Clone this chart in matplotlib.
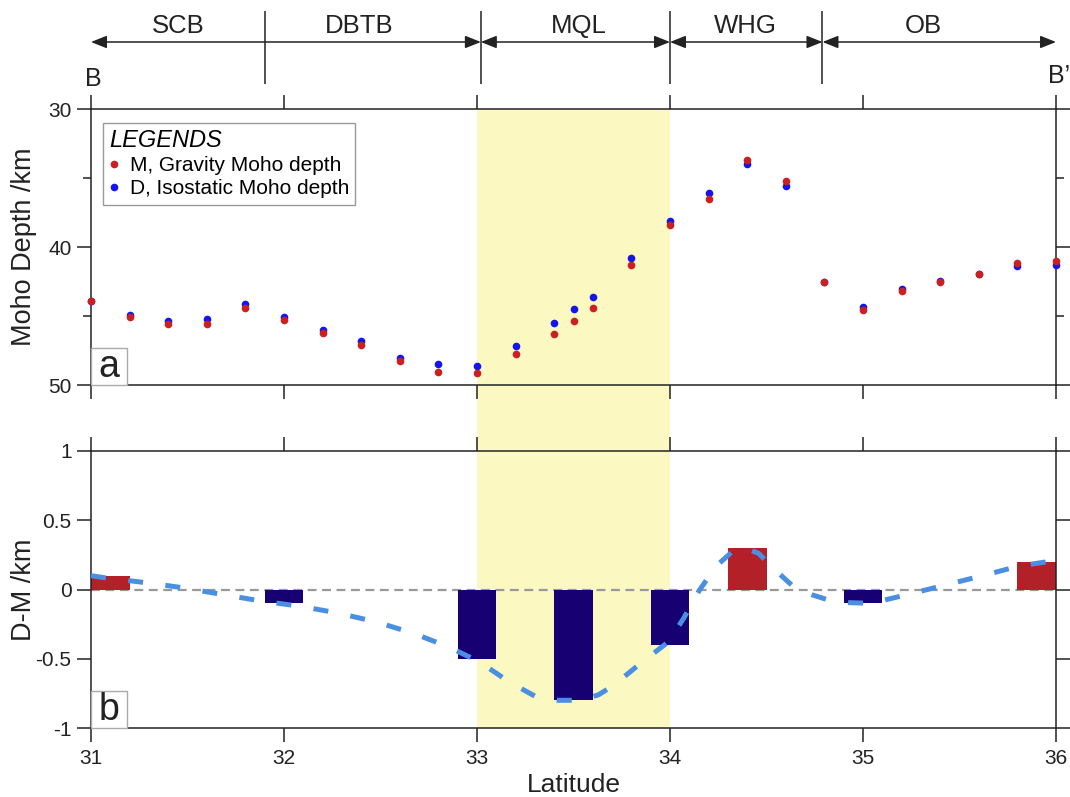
import matplotlib.pyplot as plt
from matplotlib.patches import Rectangle

plt.rcParams['font.family'] = ['Liberation Sans', 'DejaVu Sans']

# latitude of the profile points (panel a)
lat_pts = [31.0, 31.2, 31.4, 31.6, 31.8, 32.0, 32.2, 32.4, 32.6, 32.8, 33.0,
           33.2, 33.4, 33.5, 33.6, 33.8, 34.0, 34.2, 34.4, 34.6, 34.8,
           35.0, 35.2, 35.4, 35.6, 35.8, 36.0]
# M, gravity moho depth (km)
gravity_moho = [43.89, 45.05, 45.56, 45.56, 44.45, 45.27, 46.22, 47.12, 48.23, 49.03, 49.15,
                47.72, 46.34, 45.35, 44.45, 41.30, 38.41, 36.55, 33.68, 35.19, 42.51,
                44.55, 43.19, 42.53, 41.93, 41.15, 41.05]
# D, isostatic moho depth (km)
isostatic_moho = [43.89, 44.96, 45.37, 45.22, 44.16, 45.10, 45.98, 46.78, 48.06, 48.50, 48.62,
                  47.21, 45.49, 44.50, 43.60, 40.79, 38.10, 36.11, 34.02, 35.60, 42.51,
                  44.35, 43.04, 42.44, 41.93, 41.39, 41.27]

# D-M bars (panel b)
bar_lat = [31.1, 32.0, 33.0, 33.5, 34.0, 34.4, 35.0, 35.9]
bar_diff = [0.1, -0.1, -0.5, -0.8, -0.4, 0.3, -0.1, 0.2]

# smoothed D-M trend
curve_lat = [31.0, 31.07, 31.28, 31.48, 31.68, 31.89, 32.08, 32.28, 32.48, 32.67, 32.85,
             33.01, 33.17, 33.3, 33.42, 33.54, 33.63, 33.71, 33.85, 33.99, 34.07, 34.15,
             34.24, 34.32, 34.39, 34.46, 34.53, 34.64, 34.74, 34.83, 34.93, 35.04, 35.22,
             35.42, 35.62, 35.81, 36.0]
curve_diff = [0.1, 0.085, 0.05, 0.012, -0.036, -0.085, -0.12, -0.17, -0.235, -0.316, -0.413,
              -0.52, -0.67, -0.77, -0.80, -0.80, -0.76, -0.69, -0.53, -0.38, -0.21, -0.01,
              0.17, 0.27, 0.30, 0.26, 0.16, 0.02, -0.04, -0.08, -0.095, -0.10, -0.04,
              0.03, 0.10, 0.17, 0.21]

zones = ['SCB', 'DBTB', 'MQL', 'WHG', 'OB']
zone_label_lat = [31.45, 32.39, 33.53, 34.39, 35.31]
zone_seps = [31.9, 33.02, 34.0, 34.79]
# arrow segments (start, end)
zone_arrows = [(31.0, 33.02), (33.02, 34.0), (34.0, 34.79), (34.79, 36.0)]

W, H = 1070, 797
ink = '#222222'


def box(l, t, r, b):
    return [l / W, 1 - b / H, (r - l) / W, (b - t) / H]


fig = plt.figure(figsize=(W / 100, H / 100), dpi=100)

# yellow MQL band behind both panels
ax_bg = fig.add_axes(box(91, 109, 1056, 728))
ax_bg.set_xlim(31, 36)
ax_bg.axvspan(33, 34, color='#fbf8c2', lw=0)
ax_bg.axis('off')

ax_a = fig.add_axes(box(91, 109, 1056, 385))
ax_b = fig.add_axes(box(91, 451, 1056, 728))

for ax in (ax_a, ax_b):
    ax.patch.set_alpha(0)
    ax.set_xlim(31, 36)
    ax.set_xticks([31, 32, 33, 34, 35, 36])
    ax.tick_params(which='both', direction='out', top=True, right=True,
                   width=1.1, color=ink, labelsize=15, labelcolor=ink)
    ax.tick_params(which='major', length=10, pad=4)
    ax.tick_params(which='minor', length=6)
    for s in ax.spines.values():
        s.set_linewidth(1.1)
        s.set_color(ink)

# ---- panel a
ax_a.plot(lat_pts, isostatic_moho, 'o', color='#1414ee', ms=5.5, mew=0, clip_on=False,
          label='D, Isostatic Moho depth', zorder=3)
ax_a.plot(lat_pts, gravity_moho, 'o', color='#cc1f1f', ms=5.5, mew=0, clip_on=False,
          label='M, Gravity Moho depth', zorder=4)
ax_a.set_ylim(50, 30)
ax_a.set_yticks([30, 40, 50])
ax_a.set_yticks([35, 45], minor=True)
ax_a.tick_params(axis='x', labelbottom=False)
ax_a.set_ylabel('Moho Depth /km', fontsize=19.5, color=ink)
ax_a.yaxis.set_label_coords(-0.056, 0.5)

handles, labels = ax_a.get_legend_handles_labels()
leg = ax_a.legend(handles[::-1], labels[::-1], loc='upper left', bbox_to_anchor=(0.012, 0.95),
                  borderaxespad=0, title='LEGENDS', alignment='left', fontsize=15,
                  title_fontproperties={'size': 17, 'style': 'italic'},
                  fancybox=False, edgecolor='#999999', framealpha=1,
                  handlelength=0.5, handletextpad=0.5, labelspacing=0.2,
                  borderpad=0.3, markerscale=1.0)
leg.get_frame().set_linewidth(1.0)

# ---- panel b
ax_b.axhline(0, color='#999999', lw=1.6, dashes=(4, 2.5), zorder=1.5)
bar_colors = ['#b32028' if v > 0 else '#160072' for v in bar_diff]
ax_b.bar(bar_lat, bar_diff, width=0.2, color=bar_colors, zorder=2)
ax_b.plot(curve_lat, curve_diff, color='#4a8fe2', lw=3.6, dashes=(3, 4.5),
          dash_capstyle='butt', zorder=3)
ax_b.set_ylim(-1, 1)
ax_b.set_yticks([-1, -0.5, 0, 0.5, 1])
ax_b.set_yticklabels(['-1', '-0.5', '0', '0.5', '1'])
ax_b.set_xticklabels(['31', '32', '33', '34', '35', '36'])
ax_b.tick_params(axis='x', pad=5)
ax_b.set_ylabel('D-M /km', fontsize=19.5, color=ink)
ax_b.yaxis.set_label_coords(-0.056, 0.5)
ax_b.set_xlabel('Latitude', fontsize=19, color=ink, labelpad=4)

# panel letters in small boxes
for ax, letter in ((ax_a, 'a'), (ax_b, 'b')):
    hgt = ax.get_position().height * H
    ax.add_patch(Rectangle((0, 0), 36 / 965, 37 / hgt, transform=ax.transAxes,
                           fc='white', ec='#aaaaaa', lw=1, zorder=5, clip_on=False))
    ax.text(18 / 965, 8 / hgt, letter, transform=ax.transAxes, ha='center',
            va='baseline', fontsize=27, color=ink, zorder=6)

# ---- header with geological units
ax_h = fig.add_axes(box(91, 0, 1056, 95))
ax_h.set_xlim(31, 36)
ax_h.set_ylim(95, 0)
ax_h.axis('off')
ax_h.vlines(zone_seps, 11, 84, color=ink, lw=1.1)
for x0, x1 in zone_arrows:
    ax_h.annotate('', xy=(x1, 42), xytext=(x0, 42), annotation_clip=False,
                  arrowprops=dict(arrowstyle='<|-|>,head_length=0.5,head_width=0.2',
                                  color=ink, lw=1.1, mutation_scale=19,
                                  shrinkA=0, shrinkB=0))
for name, x in zip(zones, zone_label_lat):
    ax_h.text(x, 26, name, ha='center', va='center', fontsize=18.5, color=ink)
ax_h.text(31.01, 79, 'B', ha='center', va='center', fontsize=18, color=ink, clip_on=False)
ax_h.text(35.96, 76, 'B\u2019', ha='left', va='center', fontsize=18, color=ink, clip_on=False)

fig.savefig('out.png', dpi=100)
